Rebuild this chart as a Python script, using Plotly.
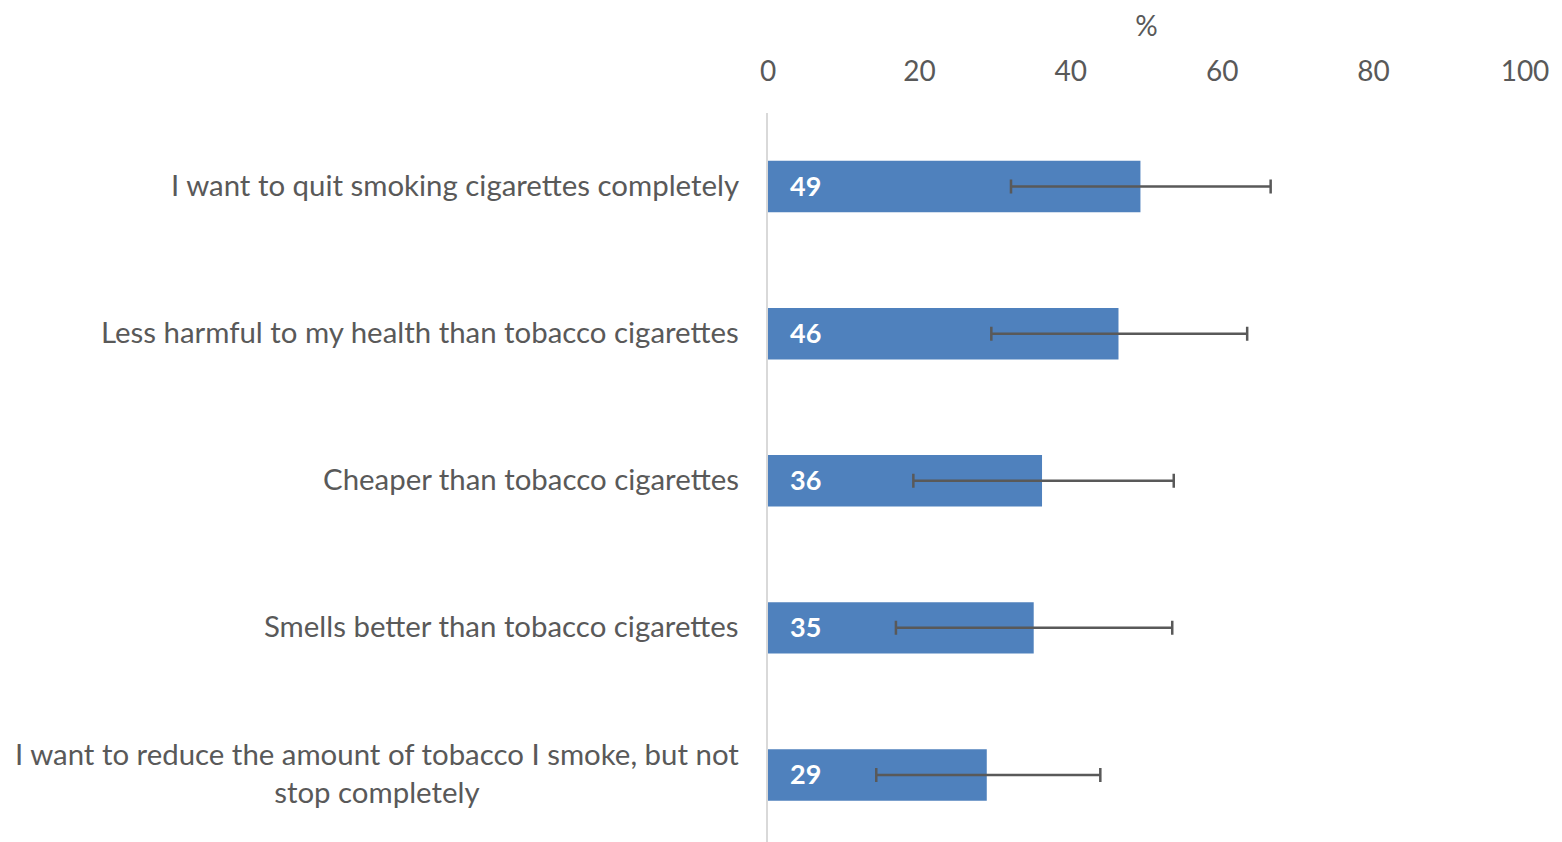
import plotly.graph_objects as go

categories = [
    "I want to quit smoking cigarettes completely",
    "Less harmful to my health than tobacco cigarettes",
    "Cheaper than tobacco cigarettes",
    "Smells better than tobacco cigarettes",
    "I want to reduce the amount of tobacco I smoke, but not<br>stop completely",
]
values = [49.2, 46.3, 36.2, 35.1, 28.9]
ci_low = [32.1, 29.5, 19.2, 16.9, 14.3]
ci_high = [66.4, 63.3, 53.6, 53.4, 43.9]
x_ticks = [0, 20, 40, 60, 80, 100]

FONT = "Lato"
TXT = "#595959"
BAR = "#4F81BD"

fig = go.Figure()
fig.add_trace(go.Bar(
    y=categories,
    x=values,
    orientation="h",
    marker=dict(color=BAR, line=dict(width=0)),
    width=0.35,
    error_x=dict(
        type="data",
        symmetric=False,
        array=[h - v for h, v in zip(ci_high, values)],
        arrayminus=[v - l for l, v in zip(ci_low, values)],
        color="#595959",
        thickness=2.5,
        width=7,
    ),
    hoverinfo="skip",
))

annotations = []
for c, v in zip(categories, values):
    annotations.append(dict(
        x=0, y=c, xref="x", yref="y", text="<b>%d</b>" % round(v),
        showarrow=False, xanchor="left", xshift=20, yshift=1,
        font=dict(family=FONT, size=27, color="white"),
    ))
    annotations.append(dict(
        x=0, y=c, xref="paper", yref="y", text=c,
        showarrow=False, xanchor="right", xshift=-27, yshift=2, align="center",
        font=dict(family=FONT, size=29.4, color=TXT),
    ))

fig.update_layout(
    width=1562, height=842,
    margin=dict(l=760, r=45, t=105, b=0),
    paper_bgcolor="white", plot_bgcolor="white",
    showlegend=False,
    font=dict(family=FONT, color=TXT),
    annotations=annotations,
    xaxis=dict(
        side="top", range=[0, 100], tickvals=x_ticks,
        showgrid=False, zeroline=False, showline=False,
        ticks="outside", ticklen=20, tickcolor="rgba(0,0,0,0)",
        tickfont=dict(family=FONT, size=28, color=TXT),
        title=dict(text="%", font=dict(family=FONT, size=28, color=TXT), standoff=20),
    ),
    yaxis=dict(
        categoryorder="array", categoryarray=categories,
        range=[4.51, -0.5],
        showticklabels=False, ticks="",
        showgrid=False, zeroline=False,
        showline=True, linecolor="#D9D9D9", linewidth=2,
    ),
)

fig.write_html("out.html")
